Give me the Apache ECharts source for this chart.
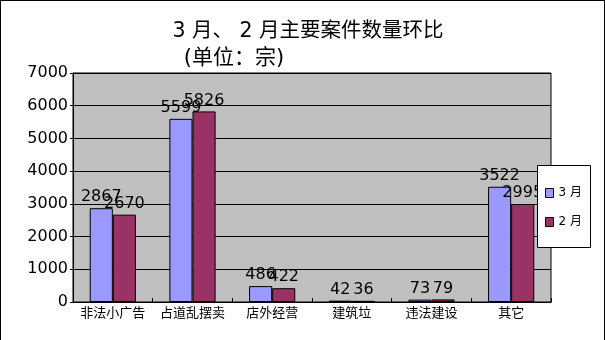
<!DOCTYPE html>
<html><head><meta charset="utf-8">
<script src="https://cdn.jsdelivr.net/npm/echarts@6/dist/echarts.min.js"></script>
<style>html,body{margin:0;padding:0;background:#fff}#c{width:605px;height:340px;box-sizing:border-box;border-top:1px solid #000;border-left:1px solid #000;border-right:1px solid #000}</style>
</head><body><div id="c"></div>
<script>
const categories = ['非法小广告','占道乱摆卖','店外经营','建筑垃','违法建设','其它'];
const march = [2867, 5599, 486, 42, 73, 3522];
const feb = [2670, 5826, 422, 36, 79, 2995];
const yTicks = [0,1000,2000,3000,4000,5000,6000,7000];
const FF = 'DejaVu Sans, Noto Sans CJK SC, sans-serif';
const chart = echarts.init(document.getElementById('c'));
chart.setOption({
  animation: false,
  title: [
    {text: '3 月、 2 月主要案件数量环比', left: 302, top: 15, textAlign: 'center',
     textStyle: {fontFamily: FF, fontSize: 20.5, fontWeight: 'normal', color: '#000'}},
    {text: '(单位：宗)', left: 228, top: 42, textAlign: 'center',
     textStyle: {fontFamily: FF, fontSize: 21, fontWeight: 'normal', color: '#000'}}
  ],
  grid: {left: 72, right: 53, top: 72, bottom: 38, show: true, backgroundColor: '#C0C0C0', borderColor: '#000', borderWidth: 1},
  xAxis: {
    type: 'category', data: categories,
    axisLine: {lineStyle: {color: '#000'}},
    axisTick: {show: true, inside: true, length: 4, lineStyle: {color: '#000'}},
    axisLabel: {fontFamily: FF, fontSize: 13, color: '#000', margin: 5, interval: 0}
  },
  yAxis: {
    type: 'value', min: 0, max: 7000, interval: 1000,
    axisLine: {show: true, lineStyle: {color: '#000'}},
    axisTick: {show: true, length: 3, lineStyle: {color: '#000'}},
    axisLabel: {fontFamily: FF, fontSize: 16, color: '#000', margin: 5,
      formatter: v => yTicks.includes(v) ? String(v) : ''},
    splitLine: {lineStyle: {color: '#000', width: 1}}
  },
  legend: {
    orient: 'vertical', left: 539, top: 181, itemGap: 17, icon: 'rect', z: 10,
    itemWidth: 8, itemHeight: 9,
    textStyle: {fontFamily: FF, fontSize: 12, color: '#000'},
    data: [{name: '3 月', itemStyle: {borderColor: '#000', borderWidth: 1}}, {name: '2 月', itemStyle: {borderColor: '#000', borderWidth: 1}}]
  },
  graphic: [{type: 'rect', left: 536, top: 164, z: 3, shape: {width: 53, height: 82}, style: {fill: '#fff', stroke: '#000', lineWidth: 1}}],
  series: [
    {name: '3 月', type: 'bar', data: march, barGap: '0%', barCategoryGap: '42%',
     itemStyle: {color: '#9999FF', borderColor: '#000', borderWidth: 1},
     label: {show: true, position: 'top', distance: 3, fontFamily: FF, fontSize: 16, color: '#000'}},
    {name: '2 月', type: 'bar', data: feb,
     itemStyle: {color: '#993366', borderColor: '#000', borderWidth: 1},
     label: {show: true, position: 'top', distance: 3, fontFamily: FF, fontSize: 16, color: '#000'}}
  ]
});
</script></body></html>
